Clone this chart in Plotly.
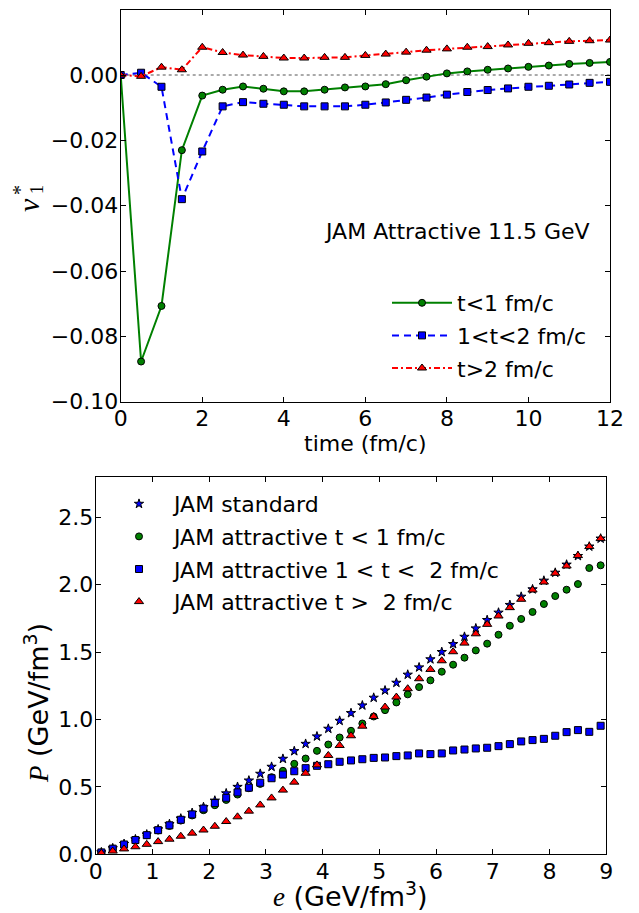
import plotly.graph_objects as go

# ---------------- data: top panel (v1* vs time) ----------------
time_fm = [0.0, 0.5, 1.0, 1.5, 2.0, 2.5, 3.0, 3.5, 4.0, 4.5, 5.0, 5.5, 6.0,
           6.5, 7.0, 7.5, 8.0, 8.5, 9.0, 9.5, 10.0, 10.5, 11.0, 11.5, 12.0]
v1_t_lt1 = [0.0, -0.0877, -0.0707, -0.0230, -0.0063, -0.0045, -0.0035, -0.0042,
            -0.0050, -0.0050, -0.0045, -0.0038, -0.0035, -0.0028, -0.0016, -0.0005,
            0.0005, 0.0011, 0.0016, 0.0020, 0.0025, 0.0029, 0.0034, 0.0037, 0.0040]
v1_t_1to2 = [0.0, 0.0007, -0.0036, -0.0380, -0.0234, -0.0096, -0.0083, -0.0088,
             -0.0091, -0.0096, -0.0096, -0.0096, -0.0091, -0.0084, -0.0076, -0.0069,
             -0.0060, -0.0052, -0.0046, -0.0041, -0.0036, -0.0033, -0.0029, -0.0024, -0.0021]
v1_t_gt2 = [0.0, -0.0004, 0.0024, 0.0016, 0.0085, 0.0069, 0.0061, 0.0057,
            0.0052, 0.0052, 0.0054, 0.0054, 0.0060, 0.0064, 0.0070, 0.0076,
            0.0080, 0.0085, 0.0087, 0.0092, 0.0097, 0.0099, 0.0103, 0.0105, 0.0107]
top_names = ["t<1 fm/c", "1<t<2 fm/c", "t>2 fm/c"]
top_yticks = [-0.10, -0.08, -0.06, -0.04, -0.02, 0.00]
top_yticklabels = ["\u22120.10", "\u22120.08", "\u22120.06", "\u22120.04", "\u22120.02", "0.00"]
top_xticks = [0, 2, 4, 6, 8, 10, 12]

# ---------------- data: bottom panel (P vs e) ----------------
e_dens = [0.1, 0.3, 0.5, 0.7, 0.9, 1.1, 1.3, 1.5, 1.7, 1.9, 2.1, 2.3, 2.5, 2.7, 2.9,
          3.1, 3.3, 3.5, 3.7, 3.9, 4.1, 4.3, 4.5, 4.7, 4.9, 5.1, 5.3, 5.5, 5.7, 5.9,
          6.1, 6.3, 6.5, 6.7, 6.9, 7.1, 7.3, 7.5, 7.7, 7.9, 8.1, 8.3, 8.5, 8.7, 8.9]
P_standard = [0.015, 0.045, 0.077, 0.111, 0.147, 0.185, 0.224, 0.265, 0.307, 0.350,
              0.398, 0.452, 0.500, 0.547, 0.597, 0.649, 0.708, 0.765, 0.819, 0.874,
              0.931, 0.990, 1.047, 1.104, 1.161, 1.215, 1.272, 1.332, 1.386, 1.446,
              1.500, 1.559, 1.613, 1.675, 1.737, 1.792, 1.849, 1.910, 1.965, 2.029,
              2.088, 2.148, 2.212, 2.282, 2.341]
P_t_lt1 = [0.013, 0.040, 0.071, 0.104, 0.140, 0.176, 0.210, 0.250, 0.288, 0.327,
           0.364, 0.403, 0.443, 0.490, 0.522, 0.572, 0.619, 0.671, 0.710, 0.767,
           0.814, 0.866, 0.916, 0.970, 1.022, 1.069, 1.126, 1.186, 1.240, 1.290,
           1.354, 1.406, 1.458, 1.512, 1.562, 1.628, 1.695, 1.745, 1.797, 1.856,
           1.915, 1.962, 2.004, 2.123, 2.143]
P_t_1to2 = [0.014, 0.042, 0.073, 0.106, 0.142, 0.179, 0.215, 0.256, 0.296, 0.339,
            0.380, 0.419, 0.459, 0.494, 0.531, 0.564, 0.591, 0.616, 0.639, 0.656,
            0.668, 0.686, 0.696, 0.705, 0.715, 0.718, 0.728, 0.733, 0.748, 0.743,
            0.748, 0.770, 0.777, 0.785, 0.790, 0.802, 0.817, 0.837, 0.847, 0.856,
            0.879, 0.906, 0.921, 0.908, 0.953]
P_t_gt2 = [0.008, 0.024, 0.040, 0.056, 0.074, 0.094, 0.112, 0.134, 0.157, 0.180,
           0.208, 0.243, 0.278, 0.320, 0.366, 0.418, 0.476, 0.535, 0.601, 0.663,
           0.733, 0.807, 0.879, 0.950, 1.022, 1.092, 1.166, 1.228, 1.302, 1.371,
           1.435, 1.502, 1.566, 1.635, 1.705, 1.767, 1.829, 1.891, 1.960, 2.019,
           2.084, 2.138, 2.215, 2.282, 2.341]
bottom_names = ["JAM standard", "JAM attractive t < 1 fm/c",
                "JAM attractive 1 < t <  2 fm/c", "JAM attractive t >  2 fm/c"]
bottom_yticks = [0.0, 0.5, 1.0, 1.5, 2.0, 2.5]
bottom_xticks = [0, 1, 2, 3, 4, 5, 6, 7, 8, 9]

# ---------------- layout helpers (screen pixels -> paper) ----------------
# the page body has an 8px margin, so the figure is shrunk by 8px and
# screen coordinates are shifted accordingly
OFF = 8
W, H = 639 - OFF, 913 - OFF
def px(x):
    return (x - OFF) / W
def py(y):
    return 1 - (y - OFF) / H

FONT = "DejaVu Sans"
SERIF = "Liberation Serif"
TICKFS = 22

GREEN, BLUE, RED = "#008000", "#0000ff", "#ff0000"

fig = go.Figure()

# top panel traces
fig.add_trace(go.Scatter(
    x=time_fm, y=v1_t_lt1, name=top_names[0], mode="lines+markers",
    line=dict(color=GREEN, width=2),
    marker=dict(symbol="circle", size=7, color=GREEN, line=dict(color="black", width=1)),
    xaxis="x", yaxis="y", legend="legend", legendgroup="a"))
fig.add_trace(go.Scatter(
    x=time_fm, y=v1_t_1to2, name=top_names[1], mode="lines+markers",
    line=dict(color=BLUE, width=2, dash="7px,5px"),
    marker=dict(symbol="square", size=7, color=BLUE, line=dict(color="black", width=1)),
    xaxis="x", yaxis="y", legend="legend", legendgroup="b"))
fig.add_trace(go.Scatter(
    x=time_fm, y=v1_t_gt2, name=top_names[2], mode="lines+markers",
    line=dict(color=RED, width=2, dash="6px,3px,2px,3px"),
    marker=dict(symbol="triangle-up", size=8, color=RED, line=dict(color="black", width=1)),
    xaxis="x", yaxis="y", legend="legend", legendgroup="c"))

# bottom panel traces
fig.add_trace(go.Scatter(
    x=e_dens, y=P_standard, name=bottom_names[0], mode="markers",
    marker=dict(symbol="star", size=7, color=BLUE, line=dict(color="black", width=1)),
    xaxis="x2", yaxis="y2", legend="legend2", legendgroup="d"))
fig.add_trace(go.Scatter(
    x=e_dens, y=P_t_lt1, name=bottom_names[1], mode="markers",
    marker=dict(symbol="circle", size=7, color=GREEN, line=dict(color="black", width=1)),
    xaxis="x2", yaxis="y2", legend="legend2", legendgroup="e"))
fig.add_trace(go.Scatter(
    x=e_dens, y=P_t_1to2, name=bottom_names[2], mode="markers",
    marker=dict(symbol="square", size=7, color=BLUE, line=dict(color="black", width=1)),
    xaxis="x2", yaxis="y2", legend="legend2", legendgroup="f"))
fig.add_trace(go.Scatter(
    x=e_dens, y=P_t_gt2, name=bottom_names[3], mode="markers",
    marker=dict(symbol="triangle-up", size=8, color=RED, line=dict(color="black", width=1)),
    xaxis="x2", yaxis="y2", legend="legend2", legendgroup="g"))

axis_common = dict(
    showline=True, linecolor="black", linewidth=1.2, mirror="ticks",
    ticks="inside", ticklen=5, tickwidth=1, tickcolor="black",
    showgrid=False, zeroline=False, automargin=False,
    tickfont=dict(family=FONT, size=TICKFS, color="black"),
)
xaxis_extra = dict(ticklabelstandoff=-3)
yaxis_extra = dict(ticklabelstandoff=-3)

fig.update_layout(
    template="none",
    width=W, height=H, autosize=False,
    margin=dict(l=0, r=0, t=0, b=0, pad=0),
    paper_bgcolor="white", plot_bgcolor="white",
    font=dict(family=FONT, color="black"),
    xaxis=dict(domain=[px(120.7), px(610)], range=[0, 12], tickvals=top_xticks,
               anchor="y", **axis_common, **xaxis_extra),
    yaxis=dict(domain=[py(401.7), py(10)], range=[-0.10, 0.0199], tickvals=top_yticks,
               ticktext=top_yticklabels, anchor="x", **axis_common, **yaxis_extra),
    xaxis2=dict(domain=[px(95.7), px(606.3)], range=[0, 9], tickvals=bottom_xticks,
                anchor="y2", **axis_common, **xaxis_extra),
    yaxis2=dict(domain=[py(854.3), py(476.7)], range=[0, 2.8], tickvals=bottom_yticks,
                tickformat=".1f", anchor="x2", **axis_common, **yaxis_extra),
    legend=dict(x=px(387), y=py(282), xanchor="left", yanchor="top",
                bgcolor="rgba(0,0,0,0)", borderwidth=0, tracegroupgap=1,
                traceorder="grouped", itemwidth=60,
                font=dict(family=FONT, size=22, color="black")),
    legend2=dict(x=px(104), y=py(483), xanchor="left", yanchor="top",
                 bgcolor="rgba(0,0,0,0)", borderwidth=0, tracegroupgap=1,
                 traceorder="grouped", itemwidth=60,
                 font=dict(family=FONT, size=22, color="black")),
    showlegend=True,
)

# dotted zero line in top panel
fig.add_shape(type="line", xref="x domain", yref="y", x0=0, x1=1, y0=0, y1=0,
              line=dict(color="#555555", width=1, dash="dot"), layer="below")

annotations = [
    dict(text="JAM Attractive 11.5 GeV", xref="x", yref="y", x=11.55, y=-0.048,
         xanchor="right", yanchor="middle", showarrow=False,
         font=dict(family=FONT, size=22, color="black")),
    dict(text="time (fm/c)", xref="paper", yref="paper", x=px(365), y=py(443),
         xanchor="center", yanchor="middle", showarrow=False,
         font=dict(family=FONT, size=22, color="black")),
    # v1* label (rotated)
    dict(text="<i>v</i>", xref="paper", yref="paper", x=px(28), y=py(205),
         xanchor="center", yanchor="middle", showarrow=False, textangle=-90,
         font=dict(family=SERIF, size=30, color="black")),
    dict(text="1", xref="paper", yref="paper", x=px(37), y=py(190),
         xanchor="center", yanchor="middle", showarrow=False, textangle=-90,
         font=dict(family=SERIF, size=18, color="black")),
    dict(text="*", xref="paper", yref="paper", x=px(20), y=py(190),
         xanchor="center", yanchor="middle", showarrow=False, textangle=-90,
         font=dict(family=SERIF, size=20, color="black")),
    # bottom axis titles
    dict(text="<span style=\"font-family:'Liberation Serif'\"><i>e</i></span> (GeV/fm<sup>3</sup>)",
         xref="paper", yref="paper", x=px(350), y=py(894),
         xanchor="center", yanchor="middle", showarrow=False,
         font=dict(family=FONT, size=27, color="black")),
    dict(text="<span style=\"font-family:'Liberation Serif'\"><i>P</i></span> (GeV/fm<sup>3</sup>)",
         xref="paper", yref="paper", x=px(36), y=py(703),
         xanchor="center", yanchor="middle", showarrow=False, textangle=-90,
         font=dict(family=FONT, size=27, color="black")),
]
fig.update_layout(annotations=annotations)

fig.write_html("out.html")
